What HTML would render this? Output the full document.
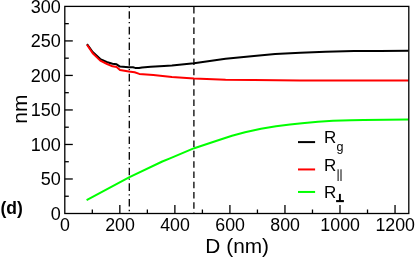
<!DOCTYPE html>
<html><head><meta charset="utf-8"><style>
html,body{margin:0;padding:0;background:#fff;}
svg{display:block;will-change:transform}
text{font-family:"Liberation Sans",sans-serif;fill:#000}
</style></head><body>
<svg width="415" height="258" viewBox="0 0 415 258">
<rect width="415" height="258" fill="#fff"/>
<g stroke="#000" stroke-width="1.3" fill="none">
<line x1="129.3" y1="6.4" x2="129.3" y2="213.5" stroke-dasharray="1.3 3.5 7.6 3.25"/>
<line x1="193.9" y1="6.4" x2="193.9" y2="213.5" stroke-dasharray="6.5 3.77" stroke-dashoffset="9.59"/>
</g>
<g fill="none" stroke-width="2" stroke-linejoin="round">
<path d="M86.6,200.2 L129.5,177.1 L162.3,161.5 L170.0,158.4 L194.2,148.2 L216.0,141.0 L232.0,135.8 L245.0,132.3 L261.0,128.8 L276.0,126.2 L290.0,124.5 L302.0,123.2 L318.0,121.7 L333.0,120.8 L351.0,120.2 L363.7,119.9 L408.3,119.5" stroke="#00ff00"/>
<path d="M87.0,44.2 L92.7,52.0 L100.3,59.1 L106.6,62.0 L112.5,63.7 L116.6,64.3 L120.0,66.6 L128.8,67.3 L133.0,67.3 L135.2,67.9 L139.0,67.9 L142.0,67.4 L150.7,66.8 L164.0,66.0 L171.9,65.4 L194.0,63.2 L225.6,58.8 L254.0,56.0 L275.2,54.1 L300.4,52.8 L325.6,51.8 L354.0,51.1 L380.0,50.9 L408.5,50.8" stroke="#000"/>
<path d="M87.0,44.7 L92.7,53.2 L100.3,60.6 L107.1,64.0 L112.5,66.3 L116.6,67.1 L120.0,70.0 L128.8,71.5 L134.6,72.3 L139.3,73.9 L153.3,75.1 L171.9,77.0 L194.0,78.4 L225.6,79.7 L254.0,80.1 L300.0,80.4 L354.0,80.6 L408.5,80.6" stroke="#ff0000"/>
</g>
<g stroke="#000" stroke-width="1.3" fill="none">
<rect x="64.8" y="6.4" width="344.0" height="207.1"/>
<line x1="92.32" y1="213.5" x2="92.32" y2="209.5"/>
<line x1="119.84" y1="213.5" x2="119.84" y2="205.0"/>
<line x1="147.36" y1="213.5" x2="147.36" y2="209.5"/>
<line x1="174.88" y1="213.5" x2="174.88" y2="205.0"/>
<line x1="202.40" y1="213.5" x2="202.40" y2="209.5"/>
<line x1="229.92" y1="213.5" x2="229.92" y2="205.0"/>
<line x1="257.44" y1="213.5" x2="257.44" y2="209.5"/>
<line x1="284.96" y1="213.5" x2="284.96" y2="205.0"/>
<line x1="312.48" y1="213.5" x2="312.48" y2="209.5"/>
<line x1="340.00" y1="213.5" x2="340.00" y2="205.0"/>
<line x1="367.52" y1="213.5" x2="367.52" y2="209.5"/>
<line x1="395.04" y1="213.5" x2="395.04" y2="205.0"/>
<line x1="64.8" y1="196.24" x2="68.8" y2="196.24"/>
<line x1="64.8" y1="178.98" x2="72.8" y2="178.98"/>
<line x1="64.8" y1="161.72" x2="68.8" y2="161.72"/>
<line x1="64.8" y1="144.47" x2="72.8" y2="144.47"/>
<line x1="64.8" y1="127.21" x2="68.8" y2="127.21"/>
<line x1="64.8" y1="109.95" x2="72.8" y2="109.95"/>
<line x1="64.8" y1="92.69" x2="68.8" y2="92.69"/>
<line x1="64.8" y1="75.43" x2="72.8" y2="75.43"/>
<line x1="64.8" y1="58.17" x2="68.8" y2="58.17"/>
<line x1="64.8" y1="40.92" x2="72.8" y2="40.92"/>
<line x1="64.8" y1="23.66" x2="68.8" y2="23.66"/>
</g>
<g font-size="18.6">
<text transform="translate(64.95,231.15) scale(0.957,1)" text-anchor="middle">0</text>
<text transform="translate(119.99,231.15) scale(0.957,1)" text-anchor="middle">200</text>
<text transform="translate(175.03,231.15) scale(0.957,1)" text-anchor="middle">400</text>
<text transform="translate(230.07,231.15) scale(0.957,1)" text-anchor="middle">600</text>
<text transform="translate(285.11,231.15) scale(0.957,1)" text-anchor="middle">800</text>
<text transform="translate(340.15,231.15) scale(0.957,1)" text-anchor="middle">1000</text>
<text transform="translate(395.19,231.15) scale(0.957,1)" text-anchor="middle">1200</text>
<text transform="translate(60.9,219.90) scale(0.97,1)" text-anchor="end">0</text>
<text transform="translate(60.9,185.38) scale(0.97,1)" text-anchor="end">50</text>
<text transform="translate(60.9,150.87) scale(0.97,1)" text-anchor="end">100</text>
<text transform="translate(60.9,116.35) scale(0.97,1)" text-anchor="end">150</text>
<text transform="translate(60.9,81.83) scale(0.97,1)" text-anchor="end">200</text>
<text transform="translate(60.9,47.32) scale(0.97,1)" text-anchor="end">250</text>
<text transform="translate(60.9,12.80) scale(0.97,1)" text-anchor="end">300</text>
</g>
<text transform="translate(237.2,252.5) scale(1.022,1)" text-anchor="middle" font-size="20.4">D (nm)</text>
<text transform="translate(27.3,109.2) rotate(-90) scale(1.0,0.99)" text-anchor="middle" font-size="21">nm</text>
<text transform="translate(0.5,213.7) scale(1.0,1)" font-size="17.5" font-weight="bold">(d)</text>
<g stroke-width="2">
<line x1="298" y1="142.1" x2="315.1" y2="142.1" stroke="#000"/>
<line x1="298" y1="169.45" x2="315.1" y2="169.45" stroke="#ff0000"/>
<line x1="298" y1="191.95" x2="315.1" y2="191.95" stroke="#00ff00"/>
</g>
<g font-size="16.8">
<text transform="translate(324.1,142.9) scale(1.013,1)">R</text>
<text transform="translate(336.6,151.3) scale(1.05,1)" font-size="12">g</text>
<text transform="translate(324.1,170.7) scale(1.013,1)">R</text>
<text transform="translate(324.1,198.1) scale(1.013,1)">R</text>
</g>
<g stroke="#000" fill="none">
<path d="M338.1,169.3 V181 M341.0,169.3 V181" stroke-width="1"/>
<path d="M339.9,193.9 V201.1" stroke-width="1.9"/><path d="M336.1,201.1 H343.9" stroke-width="2.1"/>
</g>
</svg>
</body></html>
